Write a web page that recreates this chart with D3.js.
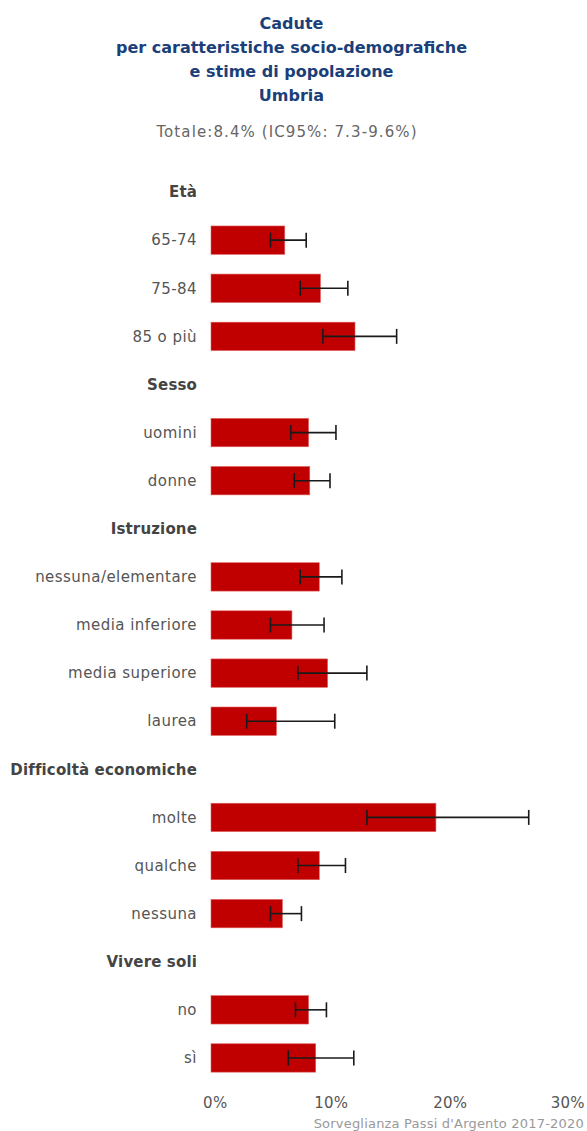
<!DOCTYPE html>
<html>
<head>
<meta charset="utf-8">
<script src="https://cdn.jsdelivr.net/npm/d3@7"></script>
<style>
  body { margin: 0; background: #fff; }
  svg text { font-family: "DejaVu Sans", Verdana, sans-serif; }
</style>
</head>
<body>
<div id="chart"></div>
<script>
// rows of the chart, top to bottom (null value = group header)
var labels = ["Età", "65-74", "75-84", "85 o più",
              "Sesso", "uomini", "donne",
              "Istruzione", "nessuna/elementare", "media inferiore", "media superiore", "laurea",
              "Difficoltà economiche", "molte", "qualche", "nessuna",
              "Vivere soli", "no", "sì"];
var isHeader = [true, false, false, false,
                true, false, false,
                true, false, false, false, false,
                true, false, false, false,
                true, false, false];
var values = [null, 6.2, 9.2, 12.1,
              null, 8.2, 8.3,
              null, 9.1, 6.8, 9.8, 5.5,
              null, 18.9, 9.1, 6.0,
              null, 8.2, 8.8];
var lower  = [null, 5.0, 7.5, 9.4,
              null, 6.7, 7.0,
              null, 7.5, 5.0, 7.3, 3.0,
              null, 13.1, 7.3, 5.0,
              null, 7.1, 6.5];
var upper  = [null, 8.0, 11.5, 15.6,
              null, 10.5, 10.0,
              null, 11.0, 9.5, 13.1, 10.4,
              null, 26.7, 11.3, 7.6,
              null, 9.7, 12.0];
var xTicks = [0, 10, 20, 30];

var titleLines = ["Cadute", "per caratteristiche socio-demografiche", "e stime di popolazione", "Umbria"];
var subtitle = "Totale:8.4% (IC95%: 7.3-9.6%)";
var credit = "Sorveglianza Passi d'Argento 2017-2020";

var W = 587, H = 1131;
var margin = {top: 168, right: 19, bottom: 49, left: 211};

var svg = d3.select("#chart").append("svg")
    .attr("width", W)
    .attr("height", H);

// title
svg.append("g").selectAll("text")
  .data(titleLines)
  .enter().append("text")
    .attr("x", W / 2 - 2)
    .attr("y", function(d, i) { return 29 + i * 24; })
    .attr("text-anchor", "middle")
    .style("font-size", "16px")
    .style("font-weight", "bold")
    .style("fill", "#1b4079")
    .text(function(d) { return d; });

svg.append("text")
    .attr("x", 287)
    .attr("y", 137)
    .attr("text-anchor", "middle")
    .style("font-size", "15px")
    .style("letter-spacing", "1.1px")
    .style("fill", "#666")
    .text(subtitle);

var x = d3.scaleLinear()
          .domain([0, 30])
          .range([margin.left, W - margin.right]);

var y = d3.scaleBand()
          .domain(d3.range(labels.length))
          .range([margin.top, H - margin.bottom])
          .paddingInner(0.41)
          .paddingOuter(0.205);

// row labels
svg.append("g").selectAll("text")
  .data(labels)
  .enter().append("text")
    .attr("x", 197)
    .attr("y", function(d, i) { return y(i) + y.bandwidth() / 2; })
    .attr("dy", "0.35em")
    .attr("text-anchor", "end")
    .style("font-size", "15px")
    .style("font-weight", function(d, i) { return isHeader[i] ? "bold" : "normal"; })
    .style("letter-spacing", function(d, i) { return isHeader[i] ? "0.15px" : "0.45px"; })
    .style("fill", function(d, i) { return isHeader[i] ? "#444" : "#555"; })
    .text(function(d) { return d; });

var rows = d3.range(labels.length).filter(function(i) { return !isHeader[i]; });

// bars
svg.append("g").selectAll("rect")
  .data(rows)
  .enter().append("rect")
    .attr("x", x(0))
    .attr("y", function(i) { return y(i); })
    .attr("width", function(i) { return x(values[i]) - x(0); })
    .attr("height", y.bandwidth())
    .style("fill", "#c00000")
    .style("stroke", "#e06060")
    .style("stroke-width", 0.6);

// error bars
var err = svg.append("g").selectAll("g")
  .data(rows)
  .enter().append("g")
    .style("stroke", "#1a1a1a")
    .style("stroke-width", 1.6);

err.append("line")
    .attr("x1", function(i) { return x(lower[i]); })
    .attr("x2", function(i) { return x(upper[i]); })
    .attr("y1", function(i) { return y(i) + y.bandwidth() / 2; })
    .attr("y2", function(i) { return y(i) + y.bandwidth() / 2; });

[lower, upper].forEach(function(arr) {
  err.append("line")
      .attr("x1", function(i) { return x(arr[i]); })
      .attr("x2", function(i) { return x(arr[i]); })
      .attr("y1", function(i) { return y(i) + y.bandwidth() / 2 - 7.5; })
      .attr("y2", function(i) { return y(i) + y.bandwidth() / 2 + 7.5; });
});

// x axis (labels only)
var xAxis = svg.append("g")
    .attr("transform", "translate(0," + (H - margin.bottom + 12) + ")")
    .call(d3.axisBottom(x).tickValues(xTicks).tickSize(0).tickFormat(function(d) { return d + "%"; }));
xAxis.select(".domain").remove();
xAxis.selectAll("text")
    .attr("dx", function(d) { return d === 0 ? "0.25em" : (d === 30 ? "-0.05em" : "0.05em"); })
    .style("font-size", "15px")
    .style("letter-spacing", "0.3px")
    .style("fill", "#555");

svg.append("text")
    .attr("x", 584)
    .attr("y", 1128)
    .attr("text-anchor", "end")
    .style("font-size", "13px")
    .style("letter-spacing", "0.2px")
    .style("fill", "#999")
    .text(credit);
</script>
</body>
</html>
